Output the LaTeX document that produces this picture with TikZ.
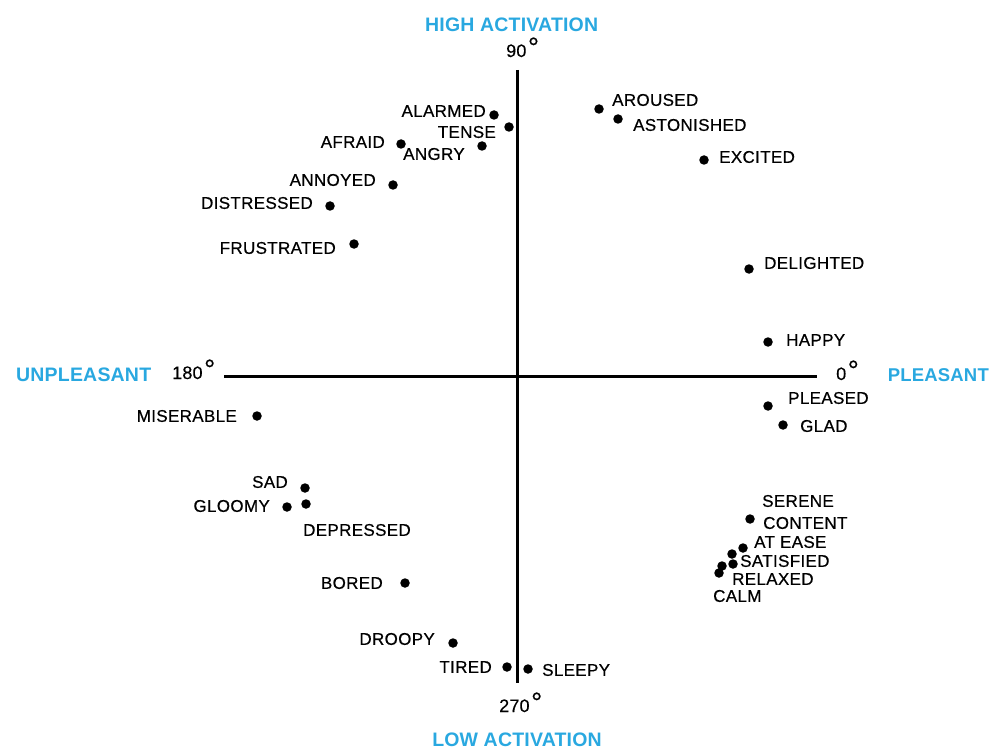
\documentclass[tikz,border=0pt]{standalone}
\usepackage{fontspec}
\setmainfont{Liberation Sans}[LetterSpace=2,FakeBold=0.5]
\newfontfamily\headfont{Liberation Sans}[LetterSpace=1]
\newfontfamily\angfont{Liberation Sans}[LetterSpace=1,FakeBold=0.3]
\definecolor{axisblue}{HTML}{29A8E0}
\newcommand\dgr{\hspace{1.5pt}{\fontsize{28}{28}\selectfont °}}
\begin{document}
\begin{tikzpicture}[x=1pt,y=-1pt,
  dot/.style={circle,fill=black,inner sep=0pt,minimum size=9.5pt},
  lab/.style={inner sep=0pt,font=\fontsize{17}{17}\selectfont},
  head/.style={inner sep=0pt,text=axisblue,font=\headfont\bfseries\fontsize{19.5}{19.5}\selectfont},
  ang/.style={inner sep=0pt,font=\angfont\fontsize{18}{18}\selectfont,anchor=base west},
  axis/.style={line width=3pt}]
\useasboundingbox (0,0) rectangle (992,751);
% axes
\coordinate (top) at (517,70);
\coordinate (bot) at (517,683);
\coordinate (lft) at (224,376);
\coordinate (rgt) at (817,376);
\draw[axis] (top) -- (bot);
\draw[axis] (lft) -- (rgt);
% headings
\node[head,anchor=west] (high) at (425,25) {HIGH ACTIVATION};
\node[head] (low) at (517,740) {LOW ACTIVATION};
\node[head,anchor=west] (unp) at (16,375) {UNPLEASANT};
\node[head,anchor=east,font=\headfont\bfseries\fontsize{18.5}{18.5}\selectfont] (ple) at (989,375) {PLEASANT};
% angles
\node[ang] (a90) at (506,57) {90\dgr};
\node[ang] (a180) at (172,379) {180\dgr};
\node[ang] (a0) at (836,380) {0\dgr};
\node[ang] (a270) at (499,712) {270\dgr};
% upper left
\node[dot] (d-alarmed) at (494,115) {};
\node[lab,anchor=east] (t-alarmed) at (486,111) {ALARMED};
\node[dot] (d-tense) at (509,127) {};
\node[lab,anchor=east] (t-tense) at (496,132) {TENSE};
\node[dot] (d-afraid) at (401,144) {};
\node[lab,anchor=east] (t-afraid) at (385,142) {AFRAID};
\node[dot] (d-angry) at (482,146) {};
\node[lab,anchor=west] (t-angry) at (403,154) {ANGRY};
\node[dot] (d-annoyed) at (393,185) {};
\node[lab,anchor=east] (t-annoyed) at (376,180) {ANNOYED};
\node[dot] (d-distressed) at (330,206) {};
\node[lab,anchor=east] (t-distressed) at (313,203) {DISTRESSED};
\node[dot] (d-frustrated) at (354,244) {};
\node[lab,anchor=east] (t-frustrated) at (336,248) {FRUSTRATED};
% upper right
\node[dot] (d-aroused) at (599,109) {};
\node[lab,anchor=west] (t-aroused) at (612,100) {AROUSED};
\node[dot] (d-astonished) at (618,119) {};
\node[lab,anchor=west] (t-astonished) at (633,125) {ASTONISHED};
\node[dot] (d-excited) at (704,160) {};
\node[lab,anchor=west] (t-excited) at (719,157) {EXCITED};
\node[dot] (d-delighted) at (749,269) {};
\node[lab,anchor=west] (t-delighted) at (764,263) {DELIGHTED};
\node[dot] (d-happy) at (768,342) {};
\node[lab,anchor=west] (t-happy) at (786,340) {HAPPY};
% lower right
\node[dot] (d-pleased) at (768,406) {};
\node[lab,anchor=west] (t-pleased) at (788,398) {PLEASED};
\node[dot] (d-glad) at (783,425) {};
\node[lab,anchor=west] (t-glad) at (800,426) {GLAD};
\node[dot] (d-serene) at (750,519) {};
\node[lab,anchor=west] (t-serene) at (762,501) {SERENE};
\node[lab,anchor=west] (t-content) at (763,523) {CONTENT};
\node[dot] (d-atease) at (743,548) {};
\node[lab,anchor=west] (t-atease) at (754,542) {AT EASE};
\node[dot] (d-satisfied1) at (732,554) {};
\node[dot] (d-satisfied2) at (733,564) {};
\node[lab,anchor=west] (t-satisfied) at (740,561) {SATISFIED};
\node[dot] (d-relaxed) at (722,566) {};
\node[dot] (d-calm) at (719,573) {};
\node[lab,anchor=west] (t-relaxed) at (732,579) {RELAXED};
\node[lab,anchor=west] (t-calm) at (713,596) {CALM};
% lower left
\node[dot] (d-miserable) at (257,416) {};
\node[lab,anchor=east] (t-miserable) at (237,416) {MISERABLE};
\node[dot] (d-sad) at (305,488) {};
\node[lab,anchor=east] (t-sad) at (288,482) {SAD};
\node[dot] (d-gloomy) at (287,507) {};
\node[dot] (d-depressed) at (306,504) {};
\node[lab,anchor=east] (t-gloomy) at (270,506) {GLOOMY};
\node[lab,anchor=west] (t-depressed) at (303,530) {DEPRESSED};
\node[dot] (d-bored) at (405,583) {};
\node[lab,anchor=east] (t-bored) at (383,583) {BORED};
\node[dot] (d-droopy) at (453,643) {};
\node[lab,anchor=east] (t-droopy) at (435,639) {DROOPY};
\node[dot] (d-tired) at (507,667) {};
\node[lab,anchor=east] (t-tired) at (492,667) {TIRED};
\node[dot] (d-sleepy) at (528,669) {};
\node[lab,anchor=west] (t-sleepy) at (542,670) {SLEEPY};
\end{tikzpicture}
\end{document}
